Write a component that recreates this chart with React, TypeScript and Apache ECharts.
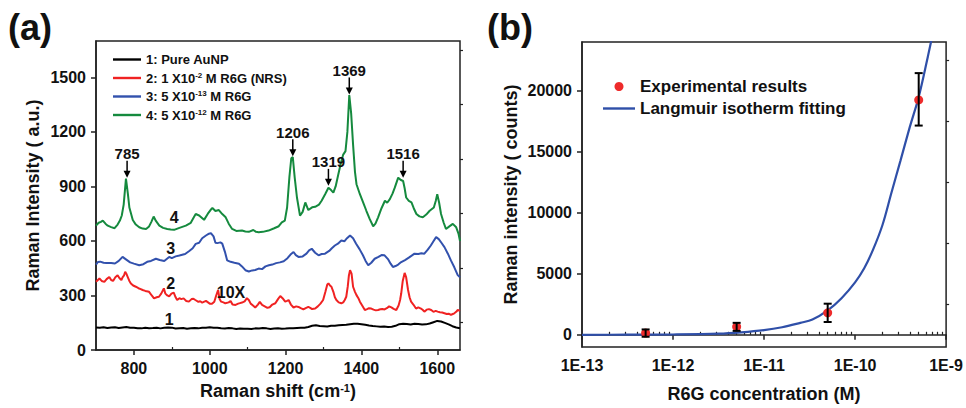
import React, { useEffect, useRef } from 'react';
import * as echarts from 'echarts';

const FONT = '"Liberation Sans", Arial, Helvetica, sans-serif';

// ---------- Panel (a): Raman spectra ----------
const spectrumNames = ['1: Pure AuNP', '2: 1 X10-2 M R6G (NRS)', '3: 5 X10-13 M R6G', '4: 5 X10-12 M R6G'];
const spectrumColors = ['#000000', '#f02222', '#3251ad', '#158a3e'];

const pureAuNP: [number, number][] = [
  [700, 124], [710, 122], [720, 125], [730, 121], [740, 124], [750, 125], [760, 121], [770, 124], [780, 126], [790, 122],
  [800, 123], [810, 120], [820, 119], [830, 122], [840, 120], [850, 121], [860, 123], [870, 119], [880, 122], [890, 124],
  [900, 123], [910, 118], [920, 120], [930, 121], [940, 117], [950, 119], [960, 121], [970, 119], [980, 122], [990, 123],
  [1000, 125], [1010, 122], [1020, 123], [1030, 120], [1040, 118], [1050, 121], [1060, 119], [1070, 116], [1080, 118], [1090, 117],
  [1100, 117], [1110, 116], [1120, 119], [1130, 118], [1140, 121], [1150, 119], [1160, 116], [1170, 118], [1180, 120], [1190, 117],
  [1200, 118], [1210, 120], [1220, 119], [1230, 121], [1240, 122], [1250, 123], [1260, 127], [1270, 133], [1280, 136], [1290, 132],
  [1300, 131], [1310, 129], [1320, 133], [1330, 134], [1340, 136], [1350, 138], [1360, 139], [1370, 142], [1380, 145], [1390, 144],
  [1400, 142], [1410, 139], [1420, 135], [1430, 132], [1440, 130], [1450, 128], [1460, 129], [1470, 127], [1480, 128], [1490, 133],
  [1500, 142], [1510, 145], [1520, 143], [1530, 140], [1540, 144], [1550, 143], [1560, 140], [1570, 141], [1580, 146], [1590, 153],
  [1600, 160], [1610, 157], [1620, 149], [1630, 141], [1640, 131], [1650, 124], [1660, 120],
];

const r6gNRS: [number, number][] = [
  [700, 375], [705, 385], [709, 393], [715, 380], [722, 375], [728, 390], [735, 402], [740, 385], [745, 380], [751, 400],
  [757, 411], [762, 395], [767, 385], [770, 400], [774, 411], [777, 430], [780, 420], [784, 400], [788, 380], [792, 366],
  [798, 355], [805, 348], [812, 340], [818, 335], [823, 330], [830, 325], [840, 320], [847, 300], [853, 284], [860, 290],
  [866, 293], [872, 310], [879, 339], [883, 310], [888, 300], [893, 295], [899, 310], [905, 316], [910, 290], [914, 275],
  [920, 285], [925, 280], [931, 284], [938, 270], [945, 266], [952, 280], [957, 282], [962, 275], [970, 265], [975, 268],
  [980, 261], [990, 270], [1000, 255], [1006, 254], [1012, 265], [1017, 300], [1022, 330], [1026, 280], [1030, 266], [1036, 262],
  [1041, 257], [1050, 262], [1055, 270], [1060, 250], [1068, 248], [1075, 255], [1080, 258], [1085, 261], [1092, 268], [1098, 285],
  [1103, 275], [1108, 255], [1114, 245], [1120, 234], [1127, 250], [1132, 265], [1138, 248], [1145, 240], [1152, 232], [1158, 235],
  [1165, 250], [1173, 257], [1180, 280], [1186, 297], [1192, 285], [1199, 266], [1204, 270], [1208, 275], [1214, 250], [1221, 234],
  [1228, 240], [1234, 237], [1240, 230], [1247, 223], [1253, 230], [1260, 237], [1265, 232], [1270, 225], [1278, 228], [1285, 240],
  [1292, 255], [1299, 275], [1305, 320], [1310, 360], [1313, 366], [1317, 355], [1321, 348], [1326, 320], [1330, 290], [1334, 275],
  [1340, 262], [1347, 257], [1352, 262], [1356, 275], [1360, 293], [1364, 350], [1367, 410], [1370, 439], [1374, 420], [1378, 348],
  [1383, 320], [1387, 302], [1392, 285], [1396, 266], [1402, 245], [1409, 220], [1415, 225], [1420, 230], [1426, 228], [1432, 222],
  [1438, 218], [1444, 220], [1450, 224], [1455, 226], [1461, 223], [1467, 230], [1473, 240], [1479, 234], [1485, 226], [1492, 220],
  [1498, 245], [1502, 275], [1505, 312], [1509, 380], [1514, 424], [1518, 400], [1523, 330], [1527, 290], [1531, 266], [1537, 250],
  [1544, 228], [1550, 235], [1557, 228], [1562, 220], [1566, 211], [1572, 222], [1578, 225], [1584, 220], [1590, 210], [1596, 215],
  [1601, 211], [1607, 208], [1613, 206], [1619, 202], [1625, 198], [1630, 200], [1636, 193], [1641, 198], [1645, 202], [1650, 210],
  [1654, 220], [1660, 215],
];

const r6g5e13: [number, number][] = [
  [700, 470], [705, 484], [711, 486], [720, 480], [727, 479], [740, 478], [750, 476], [760, 490], [770, 512], [778, 500],
  [790, 482], [800, 475], [814, 466], [825, 472], [835, 485], [845, 490], [858, 502], [868, 495], [880, 490], [893, 512],
  [900, 505], [910, 515], [920, 520], [935, 528], [946, 545], [955, 560], [963, 584], [972, 590], [980, 615], [990, 630],
  [998, 640], [1003, 643], [1010, 625], [1015, 590], [1020, 588], [1028, 592], [1033, 585], [1040, 540], [1046, 493], [1055, 485],
  [1065, 480], [1077, 475], [1085, 460], [1094, 439], [1103, 432], [1112, 438], [1120, 440], [1129, 448], [1138, 445], [1147, 460],
  [1156, 466], [1165, 470], [1175, 478], [1185, 482], [1195, 488], [1205, 505], [1213, 525], [1221, 539], [1227, 522], [1234, 512],
  [1245, 515], [1255, 530], [1262, 548], [1269, 557], [1278, 535], [1287, 521], [1295, 528], [1304, 530], [1315, 545], [1322, 560],
  [1330, 575], [1338, 585], [1347, 602], [1355, 598], [1362, 615], [1370, 630], [1378, 615], [1386, 585], [1395, 555], [1404, 521],
  [1411, 490], [1418, 466], [1426, 480], [1435, 502], [1445, 512], [1453, 522], [1461, 521], [1470, 500], [1477, 475], [1483, 457],
  [1490, 462], [1497, 470], [1505, 484], [1515, 495], [1525, 508], [1540, 530], [1550, 528], [1558, 532], [1566, 530], [1575, 552],
  [1583, 575], [1590, 598], [1597, 621], [1604, 610], [1611, 590], [1619, 566], [1628, 530], [1636, 493], [1645, 455], [1654, 412],
  [1660, 400],
];

const r6g5e12: [number, number][] = [
  [700, 684], [707, 700], [713, 705], [718, 712], [725, 695], [731, 684], [740, 676], [749, 670], [757, 690], [763, 712],
  [768, 740], [773, 800], [779, 943], [784, 860], [788, 784], [797, 715], [805, 690], [814, 675], [823, 668], [832, 666],
  [840, 680], [846, 705], [852, 734], [858, 710], [867, 684], [877, 672], [888, 666], [897, 663], [906, 661], [920, 672],
  [937, 684], [950, 700], [958, 730], [963, 748], [972, 740], [985, 716], [995, 750], [1002, 770], [1007, 781], [1015, 765],
  [1024, 770], [1033, 748], [1042, 730], [1050, 695], [1059, 666], [1070, 655], [1085, 657], [1094, 652], [1103, 650], [1115, 660],
  [1122, 650], [1129, 648], [1140, 650], [1155, 657], [1170, 670], [1182, 681], [1190, 702], [1198, 712], [1204, 784], [1210, 950],
  [1215, 1055], [1219, 1061], [1224, 950], [1230, 839], [1238, 739], [1245, 760], [1252, 812], [1260, 770], [1270, 785], [1278, 788],
  [1288, 800], [1295, 821], [1305, 860], [1313, 893], [1320, 880], [1326, 866], [1332, 900], [1339, 966], [1346, 1030], [1352, 1075],
  [1358, 1094], [1363, 1200], [1368, 1403], [1373, 1300], [1378, 1130], [1383, 980], [1387, 912], [1396, 857], [1405, 810], [1413, 766],
  [1422, 720], [1431, 681], [1437, 695], [1444, 730], [1453, 780], [1462, 821], [1468, 810], [1475, 830], [1482, 860], [1488, 893],
  [1497, 948], [1504, 935], [1510, 930], [1514, 890], [1518, 839], [1525, 820], [1532, 812], [1538, 780], [1545, 748], [1553, 735],
  [1562, 730], [1571, 745], [1580, 766], [1591, 784], [1596, 820], [1600, 857], [1605, 810], [1610, 748], [1617, 700], [1623, 666],
  [1632, 680], [1641, 694], [1650, 675], [1656, 640], [1660, 600],
];

const spectra = [pureAuNP, r6gNRS, r6g5e13, r6g5e12];

// Peak annotations (label, Raman shift of arrow tip, intensity at arrow tip)
const peakLabels = ['785', '1206', '1319', '1369', '1516'];
const peakShift = [782, 1219, 1313, 1368, 1510];
const peakTip = [948, 1066, 903, 1406, 948];

// Curve labels
const curveLabels = ['4', '3', '2', '10X', '1'];
const curveLabelShift = [906, 897, 897, 1056, 893];
const curveLabelY = [727, 557, 366, 315, 166];

// ---------- Panel (b): concentration dependence ----------
const concentration = [5e-13, 5e-12, 5e-11, 5e-10];
const intensity = [140, 650, 1800, 19250];
const errLow = [-160, 320, 1050, 17150];
const errHigh = [440, 980, 2550, 21450];

const fitConcentration = [
  1e-13, 3.16e-13, 1e-12, 3.16e-12, 5.6e-12, 1e-11, 1.58e-11, 2.5e-11, 3.4e-11, 5e-11, 7.1e-11,
  1e-10, 1.26e-10, 1.58e-10, 2e-10, 2.5e-10, 3.16e-10, 3.98e-10, 5e-10, 6.3e-10, 7.1e-10,
];
const fitIntensity = [
  0, 8, 25, 90, 200, 380, 620, 980, 1250, 2000, 3000,
  4300, 5450, 7000, 9000, 11600, 14300, 17000, 19500, 22800, 24600,
];

const xTickLabels = ['1E-13', '1E-12', '1E-11', '1E-10', '1E-9'];

const sup = (s: string) => `{s|${s}}`;
const legendText: Record<string, string> = {
  [spectrumNames[0]]: '{n|1: Pure AuNP}',
  [spectrumNames[1]]: `{n|2: 1 X10}${sup('-2')}{n| M R6G (NRS)}`,
  [spectrumNames[2]]: `{n|3: 5 X10}${sup('-13')}{n| M R6G}`,
  [spectrumNames[3]]: `{n|4: 5 X10}${sup('-12')}{n| M R6G}`,
};

const lineIcon = (w: number) => `path://M0,0L${w},0L${w},2.4L0,2.4Z`;

export default function App() {
  const ref = useRef<HTMLDivElement>(null);
  useEffect(() => {
    if (!ref.current) return;
    const chart = echarts.init(ref.current, undefined, { renderer: 'svg' });

    const axisLabelStyle = { fontSize: 16, fontWeight: 'bold', color: '#111', fontFamily: FONT, formatter: (v: number) => String(v) };
    const nameStyle = { fontSize: 18, fontWeight: 'bold', color: '#111', fontFamily: FONT };
    const axisLine = { show: true, lineStyle: { color: '#222', width: 1.5 } };
    const majorTick = (vals: number[]) => ({ show: true, length: 5, customValues: vals, lineStyle: { color: '#222', width: 1.5 } });
    const minorAxisCommon = {
      axisLine: { show: false },
      axisLabel: { show: false },
      splitLine: { show: false },
    };

    const minorLog: number[] = [];
    for (let d = -13; d <= -10; d++) for (let k = 2; k <= 9; k++) minorLog.push(d + Math.log10(k));

    const option: any = {
      animation: false,
      backgroundColor: '#ffffff',
      textStyle: { fontFamily: FONT },
      grid: [
        { left: 96, top: 41, width: 364, height: 309, show: true, borderColor: '#222', borderWidth: 1.5, backgroundColor: 'transparent' },
        { left: 582, top: 42, width: 366, height: 308, show: true, borderColor: '#222', borderWidth: 1.5, backgroundColor: 'transparent' },
      ],
      xAxis: [
        {
          gridIndex: 0, type: 'value', min: 700, max: 1660,
          axisLine, splitLine: { show: false },
          axisTick: majorTick([800, 1000, 1200, 1400, 1600]),
          axisLabel: { ...axisLabelStyle, margin: 10, customValues: [800, 1000, 1200, 1400, 1600] },
          name: 'Raman shift (cm{s|-1})', nameLocation: 'middle', nameGap: 32,
          nameTextStyle: { ...nameStyle, rich: { s: { fontSize: 11, fontWeight: 'bold', verticalAlign: 'top', lineHeight: 10, fontFamily: FONT, color: '#111' } } },
        },
        {
          gridIndex: 0, type: 'value', min: 700, max: 1660, ...minorAxisCommon,
          axisTick: { show: true, length: 3, customValues: [900, 1100, 1300, 1500], lineStyle: { color: '#222', width: 1.2 } },
        },
        {
          gridIndex: 1, type: 'value', min: -13, max: -9, interval: 1,
          axisLine, splitLine: { show: false },
          axisTick: { show: true, length: 5, lineStyle: { color: '#222', width: 1.5 } },
          axisLabel: { ...axisLabelStyle, margin: 10, formatter: (v: number) => xTickLabels[Math.round(v) + 13] },
          name: 'R6G concentration (M)', nameLocation: 'middle', nameGap: 38, nameTextStyle: nameStyle,
        },
        {
          gridIndex: 1, type: 'value', min: -13, max: -9, ...minorAxisCommon,
          axisTick: { show: true, length: 3, customValues: minorLog, lineStyle: { color: '#222', width: 1.2 } },
        },
      ],
      yAxis: [
        {
          gridIndex: 0, type: 'value', min: 0, max: 1700,
          axisLine, splitLine: { show: false },
          axisTick: majorTick([0, 300, 600, 900, 1200, 1500]),
          axisLabel: { ...axisLabelStyle, margin: 10, customValues: [0, 300, 600, 900, 1200, 1500] },
          name: 'Raman Intensity ( a.u.)', nameLocation: 'middle', nameGap: 54, nameTextStyle: nameStyle,
        },
        {
          gridIndex: 0, type: 'value', min: 0, max: 1700, ...minorAxisCommon,
          axisTick: { show: true, length: 3, customValues: [150, 450, 750, 1050, 1350, 1650], lineStyle: { color: '#222', width: 1.2 } },
        },
        {
          gridIndex: 1, type: 'value', min: -1000, max: 24000,
          axisLine, splitLine: { show: false },
          axisTick: majorTick([0, 5000, 10000, 15000, 20000]),
          axisLabel: { ...axisLabelStyle, margin: 10, customValues: [0, 5000, 10000, 15000, 20000] },
          name: 'Raman intensity ( counts)', nameLocation: 'middle', nameGap: 62, nameTextStyle: nameStyle,
        },
        {
          gridIndex: 1, type: 'value', min: -1000, max: 24000, ...minorAxisCommon,
          axisTick: { show: true, length: 3, customValues: [2500, 7500, 12500, 17500, 22500], lineStyle: { color: '#222', width: 1.2 } },
        },
      ],
      legend: [
        {
          data: spectrumNames.map((n) => ({ name: n, icon: lineIcon(28) })),
          orient: 'vertical', left: 108, top: 48,
          itemWidth: 28, itemHeight: 14, itemGap: 5, selectedMode: false,
          formatter: (name: string) => legendText[name],
          textStyle: {
            fontFamily: FONT, fontSize: 13, fontWeight: 'bold', color: '#111',
            rich: {
              n: { fontSize: 13, fontWeight: 'bold', lineHeight: 14, fontFamily: FONT, color: '#111' },
              s: { fontSize: 8, fontWeight: 'bold', lineHeight: 9, verticalAlign: 'top', fontFamily: FONT, color: '#111' },
            },
          },
        },
        {
          data: [
            { name: 'Experimental results', icon: 'circle' },
            { name: 'Langmuir isotherm fitting', icon: lineIcon(32) },
          ],
          orient: 'vertical', left: 598, top: 73,
          itemWidth: 32, itemHeight: 9, itemGap: 5, selectedMode: false,
          textStyle: { fontFamily: FONT, fontSize: 17, fontWeight: 'bold', color: '#111', lineHeight: 17 },
        },
      ],
      graphic: [
        { type: 'text', left: 8, top: 9, style: { text: '(a)', fontSize: 36, fontWeight: 'bold', fontFamily: FONT, fill: '#111' } },
        { type: 'text', left: 487, top: 9, style: { text: '(b)', fontSize: 36, fontWeight: 'bold', fontFamily: FONT, fill: '#111' } },
      ],
      series: [
        ...spectra.map((d, i) => ({
          name: spectrumNames[i], type: 'line', xAxisIndex: 0, yAxisIndex: 0, data: d,
          symbol: 'none', smooth: false, lineStyle: { color: spectrumColors[i], width: 2 }, itemStyle: { color: spectrumColors[i] },
          z: 2 + i,
        })),
        {
          type: 'custom', xAxisIndex: 0, yAxisIndex: 0, z: 10, clip: false,
          data: peakShift.map((x, i) => [x, peakTip[i]]),
          renderItem: (params: any, api: any) => {
            const p = api.coord([api.value(0), api.value(1)]);
            return {
              type: 'group',
              children: [
                { type: 'line', shape: { x1: p[0], y1: p[1] - 17, x2: p[0], y2: p[1] - 5 }, style: { stroke: '#000', lineWidth: 1.5 } },
                { type: 'polygon', shape: { points: [[p[0] - 3.5, p[1] - 7], [p[0] + 3.5, p[1] - 7], [p[0], p[1]]] }, style: { fill: '#000' } },
                {
                  type: 'text', x: p[0], y: p[1] - 24,
                  style: { text: peakLabels[params.dataIndex], align: 'center', verticalAlign: 'middle', fontSize: 15, fontWeight: 'bold', fontFamily: FONT, fill: '#111' },
                },
              ],
            };
          },
        },
        {
          type: 'custom', xAxisIndex: 0, yAxisIndex: 0, z: 10, clip: false,
          data: curveLabelShift.map((x, i) => [x, curveLabelY[i]]),
          renderItem: (params: any, api: any) => {
            const p = api.coord([api.value(0), api.value(1)]);
            return {
              type: 'text', x: p[0], y: p[1],
              style: { text: curveLabels[params.dataIndex], align: 'center', verticalAlign: 'middle', fontSize: 16, fontWeight: 'bold', fontFamily: FONT, fill: '#111' },
            };
          },
        },
        {
          name: 'Langmuir isotherm fitting', type: 'line', xAxisIndex: 2, yAxisIndex: 2,
          data: fitConcentration.map((c, i) => [Math.log10(c), fitIntensity[i]]),
          symbol: 'none', smooth: 0.35, clip: true,
          lineStyle: { color: '#2f4fa8', width: 2.2 }, itemStyle: { color: '#2f4fa8' }, z: 3,
        },
        {
          name: 'Experimental results', type: 'scatter', xAxisIndex: 2, yAxisIndex: 2,
          data: concentration.map((c, i) => [Math.log10(c), intensity[i]]),
          symbol: 'circle', symbolSize: 9, itemStyle: { color: '#ee2b2b', opacity: 1 }, z: 4,
        },
        {
          type: 'custom', xAxisIndex: 2, yAxisIndex: 2, z: 5,
          data: concentration.map((c, i) => [Math.log10(c), errLow[i], errHigh[i]]),
          encode: { x: 0, y: [1, 2] },
          renderItem: (params: any, api: any) => {
            const lo = api.coord([api.value(0), api.value(1)]);
            const hi = api.coord([api.value(0), api.value(2)]);
            const w = 4;
            const st = { stroke: '#000', lineWidth: 2 };
            return {
              type: 'group',
              children: [
                { type: 'line', shape: { x1: lo[0], y1: lo[1], x2: hi[0], y2: hi[1] }, style: st },
                { type: 'line', shape: { x1: lo[0] - w, y1: lo[1], x2: lo[0] + w, y2: lo[1] }, style: st },
                { type: 'line', shape: { x1: hi[0] - w, y1: hi[1], x2: hi[0] + w, y2: hi[1] }, style: st },
              ],
            };
          },
        },
      ],
    };

    chart.setOption(option);
    return () => chart.dispose();
  }, []);

  return <div ref={ref} style={{ position: 'fixed', left: 0, top: 0, width: 966, height: 408, background: '#fff' }} />;
}
